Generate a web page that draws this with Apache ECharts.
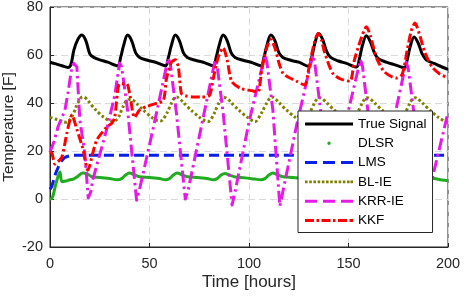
<!DOCTYPE html>
<html><head><meta charset="utf-8">
<script src="https://cdn.jsdelivr.net/npm/echarts@6/dist/echarts.min.js"></script>
<style>html,body{margin:0;padding:0;background:#fff}#c{width:464px;height:299px}</style>
</head><body><div id="c"></div>
<script>
const seriesNames = ['True Signal','DLSR','LMS','BL-IE','KRR-IE','KKF'];
const xTicks = [0,50,100,150,200];
const yTicks = [-20,0,20,40,60,80];

const trueSignal = [[0,57],[3,56.3],[6,55.5],[9,54.8],[10.5,56],[12,62],[14,66.5],[16,68.3],[18,66],[20,60.5],[22,59],[25,58],[29,57],[34,55.5],
[35.5,59],[37,64],[39,68.3],[41,66],[43,61],[45,59],[49,57.8],[53,57],[58,55.5],
[59.5,59],[61,64],[63,68.3],[65,66],[67,61],[69,59],[73,57.8],[77,57],[82,55.5],
[83.5,59],[85,64],[87,68.3],[89,66],[91,61],[93,59],[97,57.8],[101,57],[106,55.5],
[107.5,59],[109,64],[111,68.3],[113,66],[115,61],[117,59],[121,57.8],[125,57],[130,55.3],
[131.5,59],[133,64.5],[135,69],[137,66.5],[139,61.5],[141,59],[145,57.5],[149,56.5],[154,55],
[155.5,58.5],[157,64],[159,68],[161,65.5],[163,61],[165,58.5],[169,57],[173,56],[178,54.7],
[179.5,58],[181,63.5],[183,67.5],[185,65],[187,60.5],[189,58],[193,56.5],[197,55],[200,54]];

const dlsr = [[0,0],[1,0.3],[2,3],[3,6.5],[4,9.3],[5,11.3],[6,7.2],[8,7.5],[10,8],[12,8.4],[14,9.5],[16.5,10.8],[19,10.3],[21,9.3],[25,9],[30,8.5],[34,8],
[36,8.5],[38,10],[40,10.8],[42,10.2],[45,9.3],[50,9],[55,8.5],[58,8],[60,8.5],[62,10],[64,10.8],[66,10.2],[69,9.3],[74,9],[79,8.5],[82,8],
[84,8.5],[86,10],[88,10.6],[90,10],[93,9.2],[98,8.8],[103,8.3],[106,8],[108,8.5],[110,10],[112,10.8],[114,10.2],[117,9.3],[122,9],[127,8.5],[130,8.2],
[132,8.5],[134,10],[136,10.6],[138,10],[141,9.2],[146,8.8],[151,8.3],[154,8],[156,8.5],[158,9.8],[160,10.4],[162,9.8],[165,9],[170,8.6],[175,8.2],[178,7.9],
[180,8.3],[182,9.6],[184,10.2],[186,9.6],[189,8.9],[193,8.5],[197,7.9],[200,7.6]];

const lms = [[0,4],[1,5.5],[2,8.5],[3,11],[4,13],[5,14.8],[6,16],[7.5,17.3],[10,18],[12,18.2],[50,18.2],[100,18.2],[150,18.2],[200,18.2]];

const blie = [[0,34],[4,33],[8,32],[10,33],[12,36],[14,40],[16.5,42.5],[18,42],[21,39],[25,35.5],[29,33],[32,32.5],[34,33.5],[36,37],[38,40.5],[40,41.5],[42,41],[45,38.5],[49,35.5],[53,33],[55.5,32.5],
[57.5,34],[60,38],[62,41.5],[63.5,42.5],[65.5,41.5],[69,38.5],[73,35.5],[77,33],[79.5,32.3],[81.5,34],[84,38.5],[86,41.5],[87.5,42.3],[89.5,41.5],[93,38.5],[97,35.5],[101,33],[103,32.2],
[105,34],[108,38.5],[110,41.5],[111.5,42.5],[113.5,41.5],[117,38.5],[121,35.5],[125,33],[127.5,32.2],[129.5,34],[132,38.5],[134,41.5],[135.5,42.2],[137.5,41.3],[141,38.5],[145,35.5],[149,33],[151.5,32.2],
[153.5,34],[156,38.5],[158,41.5],[159.5,42.2],[161.5,41.3],[165,38.5],[169,35.5],[173,33],[175.5,32.2],[177.5,34],[180,38.5],[182,41.5],[183.5,42.2],[185.5,41.3],[189,38.5],[193,35.5],[197,33],[200,31.8]];

const krrie = [[0,19.5],[2,24],[4,30],[7.5,37],[9,44],[11,55],[12,56.5],[13.5,55],[15,33],[17.5,19],[19.2,0.5],[20.5,3],[21.5,8],[28.5,29],[32.5,43],[35,56.7],
[36,55],[39,37],[43.5,-0.5],[45,4],[52,30],[59.4,58.7],[60.5,56],[63.5,36],[68,0],[69.5,4],[76,30],[83,58],[84,55.5],[87,36],[91.5,-2.5],[93,3],
[100,32],[108,60],[109,57],[112,37],[115.5,-3],[117,3],[124,31],[132,60],[133,57],[136,37],[140,-3],[141.5,3],[148,30],[156,58],[157,55.5],[160,35],
[164,-3],[165.5,3],[172,30],[179,57],[180,54.5],[183,35],[189,-2.5],[190.5,3],[200,36]];

const kkf = [[0,19.5],[1,19],[2.5,14.5],[4,15.5],[6,17.5],[8.5,27.5],[11,35],[13.5,29],[16.5,21],[19,12],[20,14],[21,17.5],[23.5,24.5],[28.5,30],[31,31.5],[32.5,34],[34,45],[35,48],[38.5,48],[40,44],[42.5,34],[45,37],[48.5,38.5],[54,40],[57,41],
[58.5,50],[61,57],[63,58],[64.5,55],[66,44],[68,43],[72,42.5],[76,42.5],[80,43],[82,50],[84.5,59],[87,63],[89,58],[91.3,49],[96,46],[102,45],[104.5,44.5],[106.4,53.7],[108.5,62],[111,66.5],[113,63],[117,52.5],[124,49],
[128,47.5],[130,54],[132.5,64],[134.7,69],[136.5,66],[138,61],[142,52.5],[146,50],[150.7,49],[153,58],[156,66],[159,71.8],[161,68],[164,59],[168,53],[174,50.4],[177,52],[179.5,62],[181.5,70],[183.4,73.3],[185.5,69],[188.4,61],[192,55],[196,52],[200,50.5]];

const colors = ['#000000','#1fad1f','#0a1fe6','#808000','#e61ae6','#ff0000'];

function iconPath(body){ return 'path://M0,0h0.01v0.01h-0.01Z M47.99,13.99h0.01v0.01h-0.01Z ' + body; }
const icons = [
  iconPath('M0,5.5h48v3h-48Z'),
  iconPath('M22.3,7a1.7,1.7 0 1,0 3.4,0a1.7,1.7 0 1,0 -3.4,0Z'),
  iconPath('M0,5.5h12v3h-12Z M18,5.5h12v3h-12Z M36,5.5h12v3h-12Z'),
  iconPath('M0,5.7h2.6v2.6h-2.6Z M4.2,5.7h2.6v2.6h-2.6Z M8.4,5.7h2.6v2.6h-2.6Z M12.6,5.7h2.6v2.6h-2.6Z M16.8,5.7h2.6v2.6h-2.6Z M21,5.7h2.6v2.6h-2.6Z M25.2,5.7h2.6v2.6h-2.6Z M29.4,5.7h2.6v2.6h-2.6Z M33.6,5.7h2.6v2.6h-2.6Z M37.8,5.7h2.6v2.6h-2.6Z M42,5.7h2.6v2.6h-2.6Z M45.4,5.7h2.6v2.6h-2.6Z'),
  iconPath('M0,5.5h12v3h-12Z M18,5.5h12v3h-12Z M36,5.5h12v3h-12Z'),
  iconPath('M0,5.5h9v3h-9Z M11.5,5.5h2.5v3h-2.5Z M16.5,5.5h9v3h-9Z M28,5.5h2.5v3h-2.5Z M33,5.5h9v3h-9Z M44.5,5.5h3.5v3h-3.5Z')
];

const styles = [
  {width:3, type:'solid'},
  {width:3, type:'solid'},
  {width:3, type:[10,5]},
  {width:3, type:[2.6,2.4]},
  {width:3, type:[12,4,2.5,4]},
  {width:3, type:[9,3,2.5,3]}
];
const datas = [trueSignal, dlsr, lms, blie, krrie, kkf];
const smoothF = [0.35, 0.35, 0.3, 0.4, false, 0.25];

const chart = echarts.init(document.getElementById('c'), null, {renderer:'canvas'});
const font = 'Liberation Sans, Arial, Helvetica, sans-serif';
chart.setOption({
  animation:false,
  backgroundColor:'#ffffff',
  grid:{left:50, right:16, top:7, bottom:52, containLabel:false, outerBoundsMode:'none',
    show:true, borderColor:'#262626', borderWidth:1, backgroundColor:'transparent'},
  xAxis:{type:'value', min:xTicks[0], max:xTicks[xTicks.length-1], interval:50,
    name:'Time [hours]', nameLocation:'middle', nameGap:26.5, nameMoveOverlap:false,
    nameTextStyle:{fontFamily:font, fontSize:17, color:'#262626'},
    axisLine:{show:true, onZero:false, lineStyle:{color:'#262626', width:1}},
    axisTick:{show:true, inside:true, length:4, lineStyle:{color:'#262626'}},
    axisLabel:{fontFamily:font, fontSize:14.5, color:'#262626', margin:9},
    splitLine:{show:true, lineStyle:{color:'#dadada', type:[7,4], width:1}}},
  yAxis:{type:'value', min:yTicks[0], max:yTicks[yTicks.length-1], interval:20,
    name:'Temperature [F]', nameLocation:'middle', nameGap:33, nameRotate:90, nameMoveOverlap:false,
    nameTextStyle:{fontFamily:font, fontSize:15.5, color:'#262626'},
    axisLine:{show:true, onZero:false, lineStyle:{color:'#262626', width:1}},
    axisTick:{show:true, inside:true, length:4, lineStyle:{color:'#262626'}},
    axisLabel:{fontFamily:font, fontSize:14.5, color:'#262626', margin:7},
    splitLine:{show:true, lineStyle:{color:'#dadada', type:[7,4], width:1}}},
  legend:{orient:'vertical', left:298, top:111, itemWidth:48, itemHeight:14, itemGap:5.3,
    padding:[6,6,5,7], backgroundColor:'#ffffff', borderColor:'#262626', borderWidth:1,
    z:50, zlevel:0,
    itemStyle:{borderWidth:0},
    textStyle:{fontFamily:font, fontSize:13.5, color:'#000'},
    data: seriesNames.map((n,i)=>({name:n, icon:icons[i]}))},
  series: seriesNames.map((n,i)=>({
    name:n, type:'line', data:datas[i], showSymbol:false, symbol:'none',
    smooth:smoothF[i], color:colors[i],
    lineStyle:{color:colors[i], width:styles[i].width, type:styles[i].type, cap:'butt', join:'round'},
    emphasis:{disabled:true}, z:2+i/10
  }))
});
</script></body></html>
